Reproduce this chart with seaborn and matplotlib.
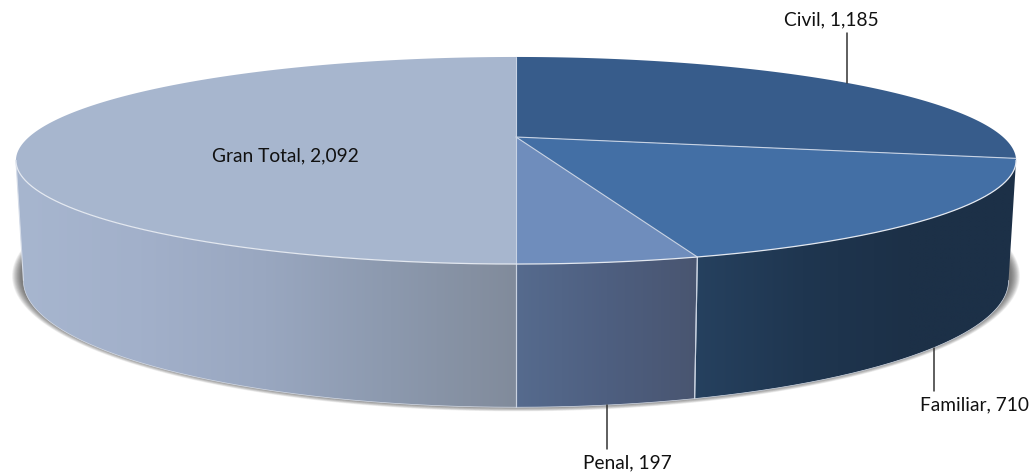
import numpy as np
import pandas as pd
import matplotlib
matplotlib.use('Agg')
import matplotlib.pyplot as plt
from matplotlib.patches import Polygon
import seaborn as sns

categories = ['Civil', 'Familiar', 'Penal', 'Gran Total']
values = [1185, 710, 197, 2092]
top_colors = ['#375C8B', '#436FA5', '#6F8DBC', '#A7B6CE']
wall_colors = [['#2B4A70', '#2B4A70'],
               ['#26415F', '#1F3650', '#1C3047', '#1C3047'],
               ['#566B8E', '#4E5F80', '#495570'],
               ['#A7B6CF', '#A2B0CA', '#99A7C0', '#8C99AE', '#818B9B']]

# where each label sits and where its leader line ends (pixels)
label_pos = {'Civil': (831, 20), 'Familiar': (974, 405), 'Penal': (627, 463), 'Gran Total': (285, 156)}
leader_end = {'Civil': 33, 'Familiar': 391, 'Penal': 449}

sns.set_style('white')
plt.rcParams['font.family'] = ['Lato', 'DejaVu Sans']

df = pd.DataFrame({'category': categories, 'value': values})
df['sweep'] = df['value'] / df['value'].sum() * 360
df['start'] = 90 - df['sweep'].cumsum().shift(fill_value=0)
df['end'] = df['start'] - df['sweep']
df['mid'] = (df['start'] + df['end']) / 2

# perspective of the tilted disc
cx, tilt, radius = 516, 0.227, 487
near_right, near_left = -13, -167


def rim(theta, level='top'):
    t = np.radians(theta)
    w = 1 + tilt * np.sin(t)
    if level == 'top':
        return cx + radius * np.cos(t) / w, 137 - 98.2 * np.sin(t) / w
    return cx + 0.985 * radius * np.cos(t) / w, 252 - 120 * np.sin(t) / w


fig, ax = plt.subplots(figsize=(10.35, 4.76), dpi=100)
fig.subplots_adjust(left=0, right=1, bottom=0, top=1)
ax.axis('off')

# soft shadow under the disc
all_t = np.linspace(0, 2 * np.pi, 240)
for grow in np.arange(9, -0.5, -0.5):
    ax.fill(cx + (495 + grow) * np.cos(all_t), 276 + (130 + grow * 0.6) * np.sin(all_t),
            color='#3c3c3c', alpha=0.05, linewidth=0, zorder=1)

# side walls with a left to right gradient
ramp = np.linspace(0, 1, 256).reshape(1, -1)
for i, row in df.iterrows():
    b = min(row['start'], near_right)
    a = max(row['end'], near_left)
    if b <= a:
        continue
    edges = np.linspace(b, a, 200)
    xt, yt = rim(edges)
    xb, yb = rim(edges[::-1], 'bottom')
    outline = Polygon(np.c_[np.r_[xt, xb], np.r_[yt, yb]], closed=True, transform=ax.transData,
                      facecolor='none', edgecolor='none')
    ax.add_patch(outline)
    cmap = sns.blend_palette(wall_colors[i], as_cmap=True)
    img = ax.imshow(ramp, cmap=cmap, aspect='auto', zorder=2, interpolation='bilinear',
                    extent=[min(xt.min(), xb.min()), max(xt.max(), xb.max()), 420, 130])
    img.set_clip_path(outline)
    # light outline along the bottom and the seams
    ax.plot(*rim(edges, 'bottom'), color='#D5DCE8', lw=0.5, zorder=3)
    for t in (a, b):
        if t == near_right:
            continue
        c = '#C9D2E0' if t != near_left else '#D5DCE8'
        ax.plot([rim(t)[0], rim(t, 'bottom')[0]], [rim(t)[1], rim(t, 'bottom')[1]], color=c, lw=0.8, zorder=3)

# top face
for i, row in df.iterrows():
    th = np.linspace(row['start'], row['end'], 200)
    xs, ys = rim(th)
    ax.fill(np.r_[cx, xs], np.r_[137, ys], color=top_colors[i], linewidth=0, zorder=4)
for i, row in df.iterrows():
    x0, y0 = rim(row['start'])
    ax.plot([cx, x0], [137, y0], color='#C8D3E4', lw=0.8, zorder=5)
th = np.linspace(near_left, near_right, 300)
ax.plot(*rim(th), color='#E3E8F0', lw=0.9, zorder=5)

# labels and leader lines
for i, row in df.iterrows():
    name = row['category']
    ax.text(*label_pos[name], f"{name}, {row['value']:,}", ha='center', va='center',
            fontsize=13.8, color='#111111', zorder=7)
    if name in leader_end:
        level = 'top' if name == 'Civil' else 'bottom'
        x, y = rim(row['mid'], level)
        ax.plot([x, x], [y, leader_end[name]], color='#333333', lw=1.1, zorder=6)

ax.set_xlim(0, 1035)
ax.set_ylim(476, 0)
fig.savefig('out.png', dpi=100)
